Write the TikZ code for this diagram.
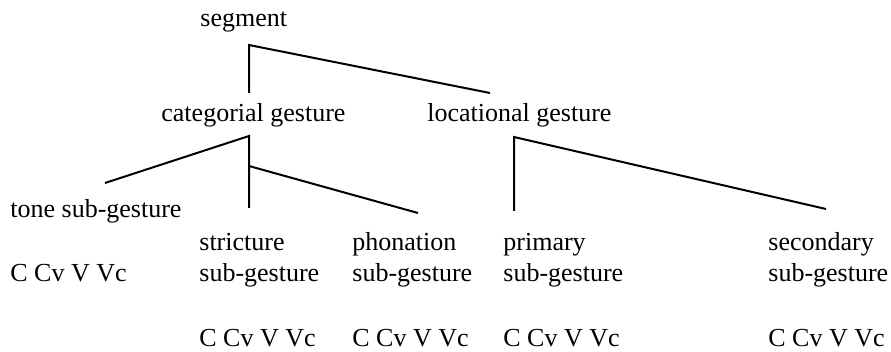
\documentclass[tikz,border=0pt]{standalone}
\usepackage{fontspec}
\setmainfont{Liberation Serif}
\begin{document}
\begin{tikzpicture}[x=0.5pt,y=-0.5pt,
		lbl/.style={anchor=base west,inner sep=0pt,align=left,font=\fontsize{13}{15.5}\selectfont},
		branch/.style={line width=1pt}]
		\useasboundingbox (0,0) rectangle (891,352);
		% labels (two-line ones sit on the baseline of their last line)
		\node[lbl] (seg) at (200,27) {segment};
		\node[lbl] (cat) at (161,122) {categorial gesture};
		\node[lbl] (loc) at (427,122) {locational gesture};
		\node[lbl] (tone) at (10,218) {tone sub-gesture};
		\node[lbl] (tone-v) at (10,282) {C Cv V Vc};
		\node[lbl] (stric) at (199,282) {stricture\\sub-gesture};
		\node[lbl] (phon) at (352,282) {phonation\\sub-gesture};
		\node[lbl] (prim) at (503,282) {primary\\sub-gesture};
		\node[lbl] (sec) at (768,282) {secondary\\sub-gesture};
		\node[lbl] (stric-v) at (199,347) {C Cv V Vc};
		\node[lbl] (phon-v) at (352,347) {C Cv V Vc};
		\node[lbl] (prim-v) at (503,347) {C Cv V Vc};
		\node[lbl] (sec-v) at (768,347) {C Cv V Vc};
		% branch points
		\coordinate (seg-fork) at (249,45);
		\coordinate (cat-in) at (249,93);
		\coordinate (loc-in) at (490,93);
		\coordinate (cat-fork) at (249,136);
		\coordinate (cat-mid) at (249,166);
		\coordinate (tone-in) at (105,183);
		\coordinate (stric-in) at (249,208);
		\coordinate (phon-in) at (418,213);
		\coordinate (loc-fork) at (514,137);
		\coordinate (prim-in) at (514,211);
		\coordinate (sec-in) at (826,209);
		% tree
		\draw[branch] (cat-in) -- (seg-fork) -- (loc-in);
		\draw[branch] (tone-in) -- (cat-fork) -- (stric-in);
		\draw[branch] (cat-mid) -- (phon-in);
		\draw[branch] (prim-in) -- (loc-fork) -- (sec-in);
	\end{tikzpicture}
\end{document}
